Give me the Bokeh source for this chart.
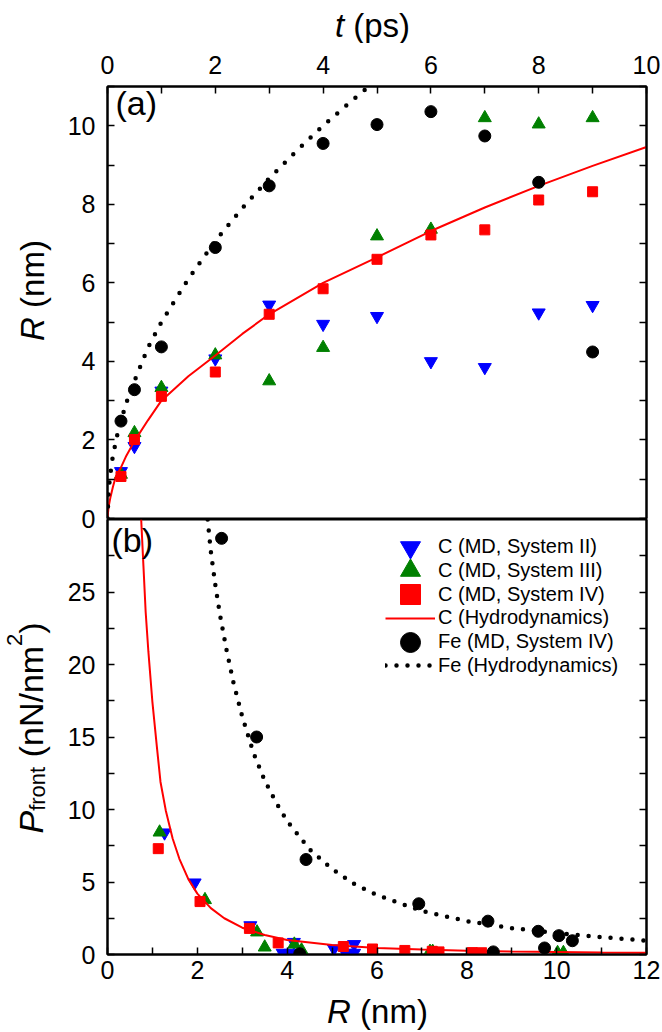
from bokeh.plotting import figure
from bokeh.models import (Range1d, FixedTicker, LinearAxis, Label, Legend,
                          LegendItem, CustomJSTickFormatter)
from bokeh.layouts import column, row
from bokeh.embed import file_html
from bokeh.resources import INLINE
import math

FONT = "Liberation Sans"

# ---------------- panel (a): R versus t ----------------
t_md = [0.25, 0.5, 1, 2, 3, 4, 5, 6, 7, 8, 9]
R_sys2 = [1.2, 1.84, 3.25, 4.07, 5.44, 4.95, 5.15, 4.0, 3.85, 5.24, 5.43]
R_sys3 = [1.12, 2.18, 3.33, 4.16, 3.5, 4.35, 7.19, 7.36, 10.2, 10.04, 10.2]
R_sys4 = [1.07, 2.01, 3.11, 3.73, 5.2, 5.85, 6.6, 7.22, 7.35, 8.11, 8.32]
R_fe = [2.48, 3.28, 4.37, 6.9, 8.47, 9.55, 10.03, 10.36, 9.74, 8.56, 4.24]

t_hyd_c = [0, 0.02, 0.056, 0.1, 0.15, 0.25, 0.35, 0.5, 0.75, 1, 1.5, 2, 2.5, 3,
           4, 5, 6, 7, 8, 9, 10]
R_hyd_c = [0, 0.3, 0.55, 0.8, 1.05, 1.3, 1.6, 1.97, 2.5, 3.0, 3.62, 4.15, 4.7,
           5.2, 6.0, 6.65, 7.32, 7.92, 8.47, 8.98, 9.46]
t_hyd_fe = [0, 0.02, 0.05, 0.1, 0.2, 0.35, 0.5, 0.75, 1, 1.5, 2, 2.5, 3, 3.5,
            4, 4.5, 4.85]
R_hyd_fe = [0, 0.7, 1.1, 1.6, 2.25, 2.95, 3.5, 4.35, 5.0, 6.1, 7.07, 7.9, 8.66,
            9.35, 10.0, 10.6, 11.0]

# ---------------- panel (b): P_front versus R ----------------
Rb_sys2 = [1.27, 1.94, 3.18, 3.9, 4.06, 4.15, 5.04, 5.3, 5.49, 5.49]
Pb_sys2 = [8.4, 4.95, 2.0, 0.1, 0.1, 0.85, 0.4, 0.1, 0.7, 0.1]
Rb_sys3 = [1.16, 2.17, 3.33, 3.5, 4.16, 4.32, 7.18, 7.24, 10.02, 10.15]
Pb_sys3 = [8.43, 3.77, 1.54, 0.5, 0.7, 0.3, 0.2, 0.2, 0.12, 0.12]
Rb_sys4 = [1.13, 2.06, 3.16, 3.8, 5.25, 5.9, 6.62, 7.23, 7.38, 8.12, 8.33]
Pb_sys4 = [7.3, 3.65, 1.8, 0.8, 0.55, 0.38, 0.28, 0.22, 0.18, 0.13, 0.12]
Rb_fe = [2.54, 3.32, 4.42, 6.93, 8.47, 9.59, 10.05, 10.35, 9.73, 8.59, 4.28]
Pb_fe = [28.7, 15.0, 6.55, 3.5, 2.3, 1.6, 1.3, 0.95, 0.45, 0.18, 0.05]

Rb_hyd_c = [0.75, 0.8, 0.85, 0.91, 1.0, 1.1, 1.18, 1.3, 1.45, 1.6, 1.8, 2.0,
            2.3, 2.6, 3.0, 3.5, 4.0, 5.0, 6.0, 7.0, 8.0, 9.0, 10.0, 11.0, 12.0]
Pb_hyd_c = [30, 26.8, 23.6, 20.9, 17.4, 14.3, 11.9, 9.9, 8.0, 6.6, 5.2, 4.2,
            3.2, 2.5, 1.85, 1.35, 1.0, 0.65, 0.45, 0.34, 0.26, 0.21, 0.17, 0.14,
            0.12]
Rb_hyd_fe = [2.23, 2.3, 2.4, 2.5, 2.65, 2.8, 3.0, 3.25, 3.5, 3.75, 4.0, 4.5,
             5.0, 5.5, 6.0, 7.0, 8.0, 9.0, 10.0, 11.0, 12.0]
Pb_hyd_fe = [30, 27.8, 25.5, 23.5, 21.0, 18.8, 16.4, 13.9, 12.0, 10.5, 9.2,
             7.25, 5.9, 4.85, 4.1, 3.0, 2.3, 1.82, 1.48, 1.2, 0.95]

# tick positions
ta_major = [0, 2, 4, 6, 8, 10]
ta_minor = [1, 3, 5, 7, 9]
Ra_major = [0, 2, 4, 6, 8, 10]
Ra_minor = [1, 3, 5, 7, 9, 11]
Rb_major = [0, 2, 4, 6, 8, 10, 12]
Rb_minor = [1, 3, 5, 7, 9, 11]
Pb_major = [0, 5, 10, 15, 20, 25]
Pb_minor = [2.5, 7.5, 12.5, 17.5, 22.5, 27.5]

legend_labels = ["C (MD, System II)", "C (MD, System III)", "C (MD, System IV)",
                 "C (Hydrodynamics)", "Fe (MD, System IV)", "Fe (Hydrodynamics)"]

BLUE, GREEN, RED = "#0000FF", "#008000", "#FF0000"
TICK = "25px"
TS = 33      # axis-title font size
SS = 22      # sub/superscript size
BL = 0.3465  # measured shift of Label text below its anchor (em)

AW = {' ': 278, '(': 333, ')': 333, '/': 278, 'P': 667, 'R': 722, 'N': 722,
      'n': 556, 'm': 833, 'f': 278, 'r': 333, 'o': 556, 't': 278, 'p': 556,
      's': 500, '2': 556}


def tw(s, size):
    return sum(AW[c] for c in s) / 1000.0 * size


def style_axis(ax, standoff=10):
    ax.axis_line_width = 2
    ax.axis_line_color = "black"
    ax.major_tick_in = 7
    ax.major_tick_out = 0
    ax.minor_tick_in = 7
    ax.minor_tick_out = 0
    ax.major_tick_line_width = 1.5
    ax.minor_tick_line_width = 1.5
    ax.major_label_text_font = FONT
    ax.major_label_text_font_size = TICK
    ax.major_label_text_color = "black"
    ax.major_label_standoff = standoff


def blank_right(fig, major, minor):
    ax = LinearAxis(ticker=FixedTicker(ticks=major, minor_ticks=minor),
                    formatter=CustomJSTickFormatter(code="return ''"))
    style_axis(ax, standoff=0)
    fig.add_layout(ax, "right")


def htext(fig, text, x, ybase, size, italic=False):
    """horizontal text, (x, ybase) = left end of baseline (frame px)"""
    fig.add_layout(Label(x=x, y=ybase + BL * size, x_units="screen",
                         y_units="screen", text=text, text_font=FONT,
                         text_font_size=f"{size}px",
                         text_font_style="italic" if italic else "normal",
                         text_align="left", text_baseline="alphabetic",
                         text_color="black"))


def vtext(fig, text, xbase, y, size, italic=False):
    """text rotated 90 deg, reading upward; xbase = baseline, y = start"""
    fig.add_layout(Label(x=xbase - BL * size, y=y, x_units="screen",
                         y_units="screen", text=text, angle=math.pi / 2,
                         text_font=FONT, text_font_size=f"{size}px",
                         text_font_style="italic" if italic else "normal",
                         text_align="left", text_baseline="alphabetic",
                         text_color="black"))


def base_fig(fh, xr, yr, top, bottom, xloc):
    p = figure(frame_width=539, frame_height=fh, x_range=xr, y_range=yr,
               x_axis_location=xloc, output_backend="svg",
               toolbar_location=None, min_border_left=49, min_border_right=16,
               min_border_top=top, min_border_bottom=bottom)
    p.xgrid.visible = False
    p.ygrid.visible = False
    p.outline_line_color = "black"
    p.outline_line_width = 2
    return p


def label_fig(w, h):
    f = figure(width=w, height=h, x_range=Range1d(0, 1), y_range=Range1d(0, 1),
               x_axis_location=None, y_axis_location=None,
               toolbar_location=None, output_backend="svg", min_border=0)
    f.outline_line_color = None
    f.grid.visible = False
    f.background_fill_color = "white"
    f.border_fill_color = "white"
    return f


# ================= top panel =================
pa = base_fig(432, Range1d(0, 10), Range1d(0, 11), 43, 13, "above")
pa.xaxis.ticker = FixedTicker(ticks=ta_major, minor_ticks=ta_minor)
pa.yaxis.ticker = FixedTicker(ticks=Ra_major, minor_ticks=Ra_minor)
style_axis(pa.xaxis[0], standoff=13)
style_axis(pa.yaxis[0], standoff=12)
blank_right(pa, Ra_major, Ra_minor)
pa.background_fill_color = "white"
pa.border_fill_color = "white"

pa.scatter(t_md, R_sys2, marker="inverted_triangle", size=13, color=BLUE)
pa.scatter(t_md, R_sys3, marker="triangle", size=13, color=GREEN)
pa.scatter(t_md, R_sys4, marker="square", size=10, color=RED)
pa.line(t_hyd_c, R_hyd_c, line_color=RED, line_width=2)
pa.scatter(t_md, R_fe, marker="circle", size=12, color="black")
pa.line(t_hyd_fe, R_hyd_fe, line_color="black", line_width=4.5,
        line_dash="0 12", line_cap="round")
htext(pa, "(a)", 8, 518 - 114, 34)

# ================= bottom panel =================
pb = base_fig(435, Range1d(0, 12), Range1d(0, 30), 0, 38, "below")
pb.xaxis.ticker = FixedTicker(ticks=Rb_major, minor_ticks=Rb_minor)
pb.yaxis.ticker = FixedTicker(ticks=Pb_major, minor_ticks=Pb_minor)
style_axis(pb.xaxis[0], standoff=6)
style_axis(pb.yaxis[0], standoff=12)
blank_right(pb, Pb_major, Pb_minor)
pb.background_fill_color = None
pb.border_fill_color = None
pb.margin = (-12, 0, 0, 0)

r2 = pb.scatter(Rb_sys2, Pb_sys2, marker="inverted_triangle", size=13, color=BLUE)
r3 = pb.scatter(Rb_sys3, Pb_sys3, marker="triangle", size=13, color=GREEN)
r4 = pb.scatter(Rb_sys4, Pb_sys4, marker="square", size=10, color=RED)
rc = pb.line(Rb_hyd_c, Pb_hyd_c, line_color=RED, line_width=2)
rf = pb.scatter(Rb_fe, Pb_fe, marker="circle", size=12, color="black")
rfh = pb.line(Rb_hyd_fe, Pb_hyd_fe, line_color="black", line_width=4.5,
              line_dash="0 11", line_cap="round")

# one single-item legend per row so rows can sit closer than the glyph box
row_pitch = 23.7
first_center = 27.7          # px below the top of panel (b)'s frame
for i, (lbl, rend) in enumerate(zip(legend_labels, [r2, r3, r4, rc, rf, rfh])):
    center = first_center + i * row_pitch
    pb.add_layout(Legend(
        items=[LegendItem(label=lbl, renderers=[rend])],
        location=(278, 435 - center - 25), glyph_width=50, glyph_height=50,
        padding=0, margin=0, label_standoff=3, label_text_font=FONT,
        label_text_font_size="20px", label_text_color="black",
        border_line_color=None, background_fill_alpha=0))

htext(pb, "(b)", 4, 954 - 551, 34)

# ================= title strips =================
# top strip: page y 0..43
tf = label_fig(662, 43)
x0 = 372 - tw("t (ps)", TS) / 2
htext(tf, "t", x0, 43 - 36, TS, italic=True)
htext(tf, "(ps)", x0 + tw("t ", TS), 43 - 36, TS)

# left strip: page x 0..58, y 43..992
lf = label_fig(58, 949)
y0 = 992 - 290 - tw("R (nm)", TS) / 2
vtext(lf, "R", 43, y0, TS, italic=True)
vtext(lf, "(nm)", 43, y0 + tw("R ", TS), TS)

PS = 34
yb = 992 - 833
xb = 42
vtext(lf, "P", xb, yb, PS, italic=True)
yb += tw("P", PS)
vtext(lf, "front", xb + 3, yb, SS)
yb += tw("front", SS) + tw(" ", PS)
vtext(lf, "(nN/nm", xb, yb, PS)
yb += tw("(nN/nm", PS)
vtext(lf, "2", xb - 20, yb, SS)
yb += tw("2", SS)
vtext(lf, ")", xb, yb, PS)

# bottom strip: page y 992..1031
bf = label_fig(662, 39)
x0 = 377 - tw("R (nm)", TS) / 2
htext(bf, "R", x0, 1031 - 1022, TS, italic=True)
htext(bf, "(nm)", x0 + tw("R ", TS), 1031 - 1022, TS)

layout = column(tf, row(lf, column(pa, pb)), bf)
open("out.html", "w").write(file_html(layout, INLINE))
